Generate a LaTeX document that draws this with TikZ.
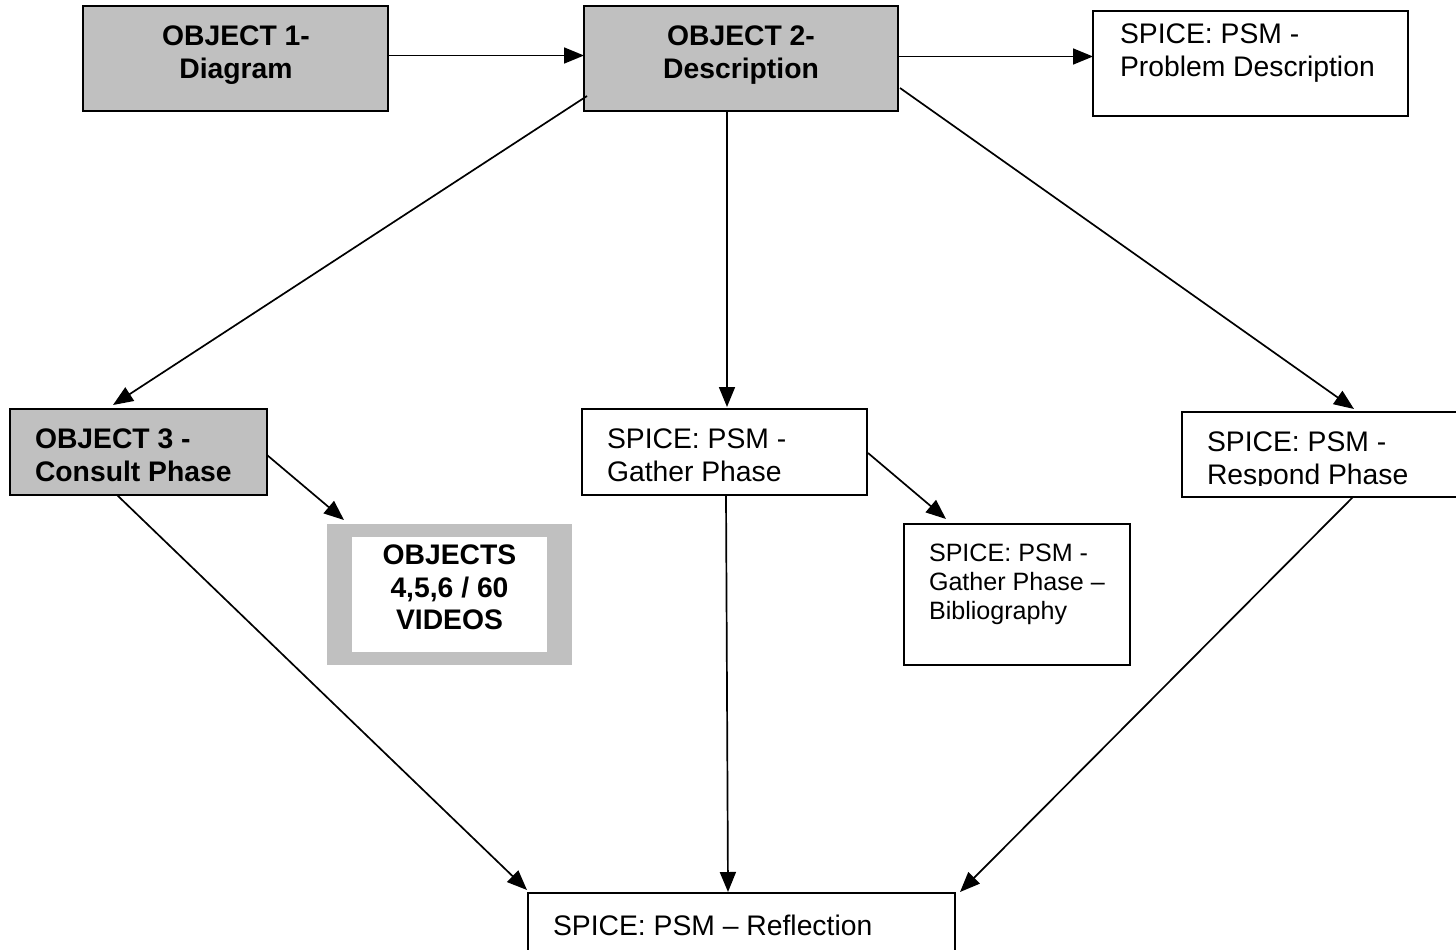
\documentclass[tikz,border=0pt]{standalone}
\usepackage{fontspec}
\setmainfont{Liberation Sans}
\usetikzlibrary{arrows.meta,calc}
\definecolor{boxgray}{HTML}{C0C0C0}
\newcommand\diafont{\fontsize{28.3}{32.5}\selectfont}
\newcommand\diasmall{\fontsize{25.1}{29}\selectfont}
\tikzset{
  every node/.style={inner sep=0pt, outer sep=0pt},
  frame/.style={rectangle, draw=black, line width=2pt, anchor=north west},
  grayframe/.style={frame, fill=boxgray},
  whiteframe/.style={frame, fill=white},
  conn/.style={draw=black, line width=1.7pt, -{Triangle[length=20pt,width=16pt]}},
  lbl/.style={font=\diafont, align=left, anchor=north west},
  boldlbl/.style={font=\diafont\bfseries, align=center, anchor=north},
}
\begin{document}
\begin{tikzpicture}[x=1pt, y=-1pt]
\useasboundingbox (0,0) rectangle (1456,950);

% boxes
\node[grayframe, minimum width=305pt, minimum height=105pt] (b1) at (83,6) {};
\node[grayframe, minimum width=314pt, minimum height=105pt] (b2) at (584,6) {};
\node[whiteframe, minimum width=315pt, minimum height=105pt] (pd) at (1093,11) {};
\node[grayframe, minimum width=257pt, minimum height=86pt] (o3) at (10,409) {};
\node[whiteframe, minimum width=285pt, minimum height=86pt] (gp) at (582,409) {};
\node[whiteframe, minimum width=300pt, minimum height=85pt] (rp) at (1182,412) {};
\node[rectangle, fill=boxgray, minimum width=245pt, minimum height=141pt, anchor=north west] (vid) at (327,524) {};
\node[rectangle, fill=white, minimum width=195pt, minimum height=115pt, anchor=north west] (vidin) at (352,537) {};
\node[whiteframe, minimum width=226pt, minimum height=141pt] (bib) at (904,524) {};
\node[whiteframe, minimum width=427pt, minimum height=90pt] (rf) at (528,893) {};

% labels
\node[boldlbl] (t1) at (236,26) {OBJECT 1-\\Diagram};
\node[boldlbl] (t2) at (741,26) {OBJECT 2-\\Description};
\node[lbl] (tpd) at (1120,24) {SPICE: PSM -\\Problem Description};
\node[lbl, font=\diafont\bfseries] (to3) at (35,429) {OBJECT 3 -\\Consult Phase};
\node[boldlbl] (tvid) at (449.5,545) {OBJECTS\\4,5,6 / 60\\VIDEOS};
\node[lbl] (tgp) at (607,429) {SPICE: PSM -\\Gather Phase};
\node[lbl, font=\diasmall] (tbib) at (929,544) {SPICE: PSM -\\Gather Phase --\\Bibliography};
\begin{scope}
  \clip (1182,412) rectangle (1480,485);
  \node[lbl] (trp) at (1207,432) {SPICE: PSM -\\Respond Phase};
\end{scope}
\node[lbl] (trf) at (553,915) {SPICE: PSM -- Reflection};

% connectors
\draw[conn] ($(b1.east)+(0,-3)$) -- ($(b2.west)+(0,-3)$);
\draw[conn] ($(b2.east)+(0,-2)$) -- ($(b2.east -| pd.west)+(0,-2)$);
\draw[conn] ($(b2.south west)+(3,-15)$) -- ($(o3.north west)+(103,-4)$);
\draw[conn] ($(b2.south west)+(143,0)$) -- ($(gp.north west)+(145,-2)$);
\draw[conn] ($(b2.south east)+(2,-23)$) -- ($(rp.north west)+(172,-3)$);
\draw[conn] ($(o3.south east)+(0,-40)$) -- ($(vid.north west)+(17,-4)$);
\draw[conn] ($(gp.south east)+(1,-42)$) -- ($(bib.north west)+(42,-5)$);
\draw[conn] ($(o3.south west)+(107,0)$) -- ($(rf.north west)+(-1,-3)$);
\draw[conn] ($(gp.south west)+(144,0)$) -- ($(rf.north west)+(200,-1)$);
\draw[conn] ($(rp.south west)+(171,0)$) -- ($(rf.north east)+(5,-1)$);
\end{tikzpicture}
\end{document}
